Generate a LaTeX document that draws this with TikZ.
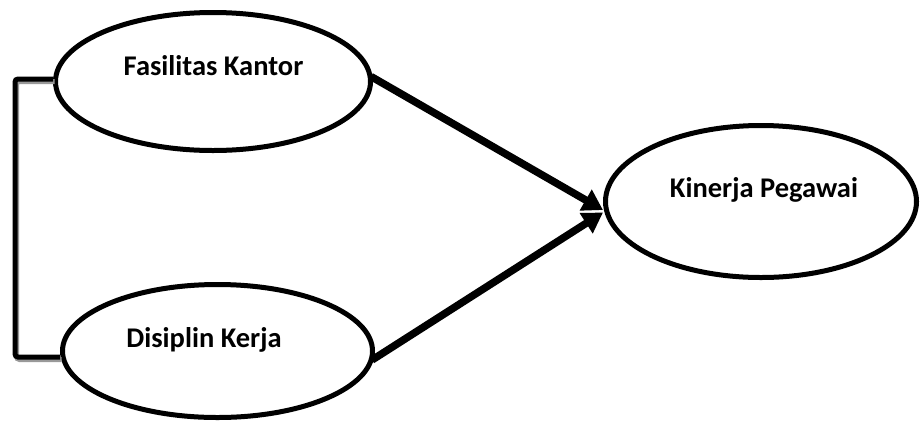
\documentclass[tikz,border=0pt]{standalone}
\usepackage{fontspec}
\setmainfont{Carlito}
\usetikzlibrary{shapes.geometric,arrows.meta}
\begin{document}
\begin{tikzpicture}[x=1pt,y=-1pt,
  oval/.style={ellipse,draw=black,line width=5pt,inner sep=0pt},
  lbl/.style={anchor=base,inner sep=0pt,font=\fontsize{28.5}{34}\selectfont\bfseries},
  arr/.style={line width=7.5pt,-{Triangle[length=20pt,width=23pt]}},
  brk/.style={line width=5pt,rounded corners=3pt},
  brkshadow/.style={brk,draw=black!40}
]
\useasboundingbox (0,0) rectangle (920,424);
\node[oval,minimum width=315pt,minimum height=138pt] (f) at (213,81.5) {};
\node[oval,minimum width=310pt,minimum height=133pt] (d) at (217.5,351) {};
\node[oval,minimum width=311pt,minimum height=152pt] (k) at (761,201.5) {};
\node[lbl] (ft) at (213.5,75) {Fasilitas Kantor};
\node[lbl] (dt) at (204,347) {Disiplin Kerja};
\node[lbl] (kt) at (764,197) {Kinerja Pegawai};
% bracket (shadow then line)
\begin{scope}[transform canvas={shift={(1.5pt,-2.5pt)}}]
\draw[brkshadow] ([yshift=2.5pt]f.west) -- ++(-38,0) |- ([yshift=-6pt]d.west);
\end{scope}
\draw[brk] ([yshift=2.5pt]f.west) -- ++(-38,0) |- ([yshift=-6pt]d.west);
% arrows
\draw[arr] ([xshift=-2pt,yshift=5pt]f.east) -- ([yshift=-8.5pt]k.west);
\draw[arr] ([xshift=-3pt,yshift=-9pt]d.east) -- ([yshift=-11pt]k.west);
\end{tikzpicture}
\end{document}
